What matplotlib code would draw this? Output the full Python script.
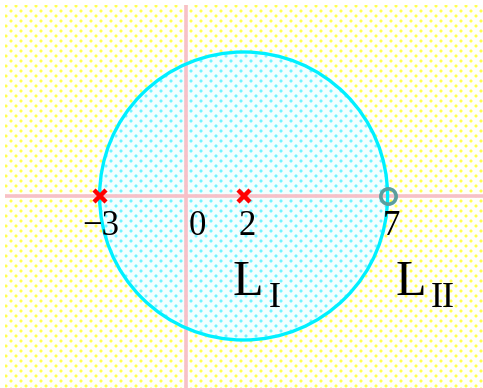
import matplotlib
matplotlib.use("Agg")
import matplotlib.pyplot as plt
import numpy as np
from matplotlib.patches import Circle

# ── data ─────────────────────────────────────────
poles = [-3, 2]
zeros = [7]
tick_pos = [-3, 0, 2, 7]
tick_labels = ["\u22123", "0", "2", "7"]
circle_center = 2
circle_radius = 5

W, H, DPI = 483, 388, 100
PX = 28.8          # pixels per unit
OX, OY = 186, 196  # origin in pixels (from top-left)
AXIS_C = "#F7C0C8"


def dot_texture(bg, core, fringe, margin=0):
    """staggered dot pattern, one cell per output pixel"""
    img = np.ones((H, W, 3)) * np.array(bg)
    yy, xx = np.mgrid[0:H, 0:W]
    a = ((yy % 10) < 2) & ((xx % 10) < 2)
    b = (((yy + 5) % 10) < 2) & (((xx + 5) % 10) < 2)
    dots = a | b
    near = np.zeros_like(dots)
    for dy, dx in [(-1, 0), (1, 0), (0, -1), (0, 1)]:
        near |= np.roll(np.roll(dots, dy, 0), dx, 1)
    img[near & ~dots] = fringe
    img[dots] = core
    if margin:
        img[:margin, :] = 1
        img[:, :margin] = 1
    return img


def hx(s):
    s = s.lstrip("#")
    return [int(s[i:i + 2], 16) / 255 for i in (0, 2, 4)]


fig = plt.figure(figsize=(W / DPI, H / DPI), dpi=DPI)
ax = fig.add_axes([0, 0, 1, 1])
x0, x1 = -OX / PX, (W - OX) / PX
y0, y1 = (OY - H) / PX, OY / PX
ax.set_xlim(x0, x1)
ax.set_ylim(y0, y1)
ax.axis("off")
fig.patch.set_facecolor("white")

# dotted yellow background
ax.imshow(dot_texture(hx("#FFFFFA"), hx("#FFFF50"), hx("#FFFFB0"), margin=5),
          extent=(x0, x1, y0, y1), interpolation="nearest", aspect="auto",
          zorder=0)

# region circle with cyan dots
clip = Circle((circle_center, 0), circle_radius, transform=ax.transData)
im = ax.imshow(dot_texture(hx("#F2FFFF"), hx("#70F4FF"), hx("#B8FAFF")),
               extent=(x0, x1, y0, y1), interpolation="nearest",
               aspect="auto", zorder=1)
im.set_clip_path(clip)
ax.set_xlim(x0, x1)
ax.set_ylim(y0, y1)

# axes lines
ax.plot([x0 + 5 / PX, x1], [0, 0], color=AXIS_C, lw=2.6, zorder=3,
        solid_capstyle="butt")
ax.plot([0, 0], [y0, y1 - 5 / PX], color=AXIS_C, lw=2.6, zorder=3,
        solid_capstyle="butt")

ax.add_patch(Circle((circle_center, 0), circle_radius, facecolor="none",
                    edgecolor="#00F0FF", linewidth=2.4, zorder=4))

# poles and zeros
ax.plot(poles, [0] * len(poles), "x", color="#FF0000", ms=9, mew=3.2, zorder=5)
ax.plot(zeros, [0] * len(zeros), "o", mfc="none", mec="#5A9E9E", ms=11,
        mew=2.6, zorder=5)

font = dict(family=["Liberation Serif", "DejaVu Serif"], color="black")
label_dx = [0.05, 0.38, 0.12, 0.15]
for p, t, dx in zip(tick_pos, tick_labels, label_dx):
    ax.text(p + dx, -1.05, t, ha="center", va="center",
            fontsize=25, zorder=6, **font)

ax.text(2.15, -3.0, "L", ha="center", va="center", fontsize=36, zorder=6, **font)
ax.text(3.09, -3.55, "I", ha="center", va="center", fontsize=26, zorder=6, **font)
ax.text(7.8, -3.0, "L", ha="center", va="center", fontsize=36, zorder=6, **font)
ax.text(8.9, -3.55, "II", ha="center", va="center", fontsize=26, zorder=6, **font)

fig.savefig("out.png", dpi=DPI)
